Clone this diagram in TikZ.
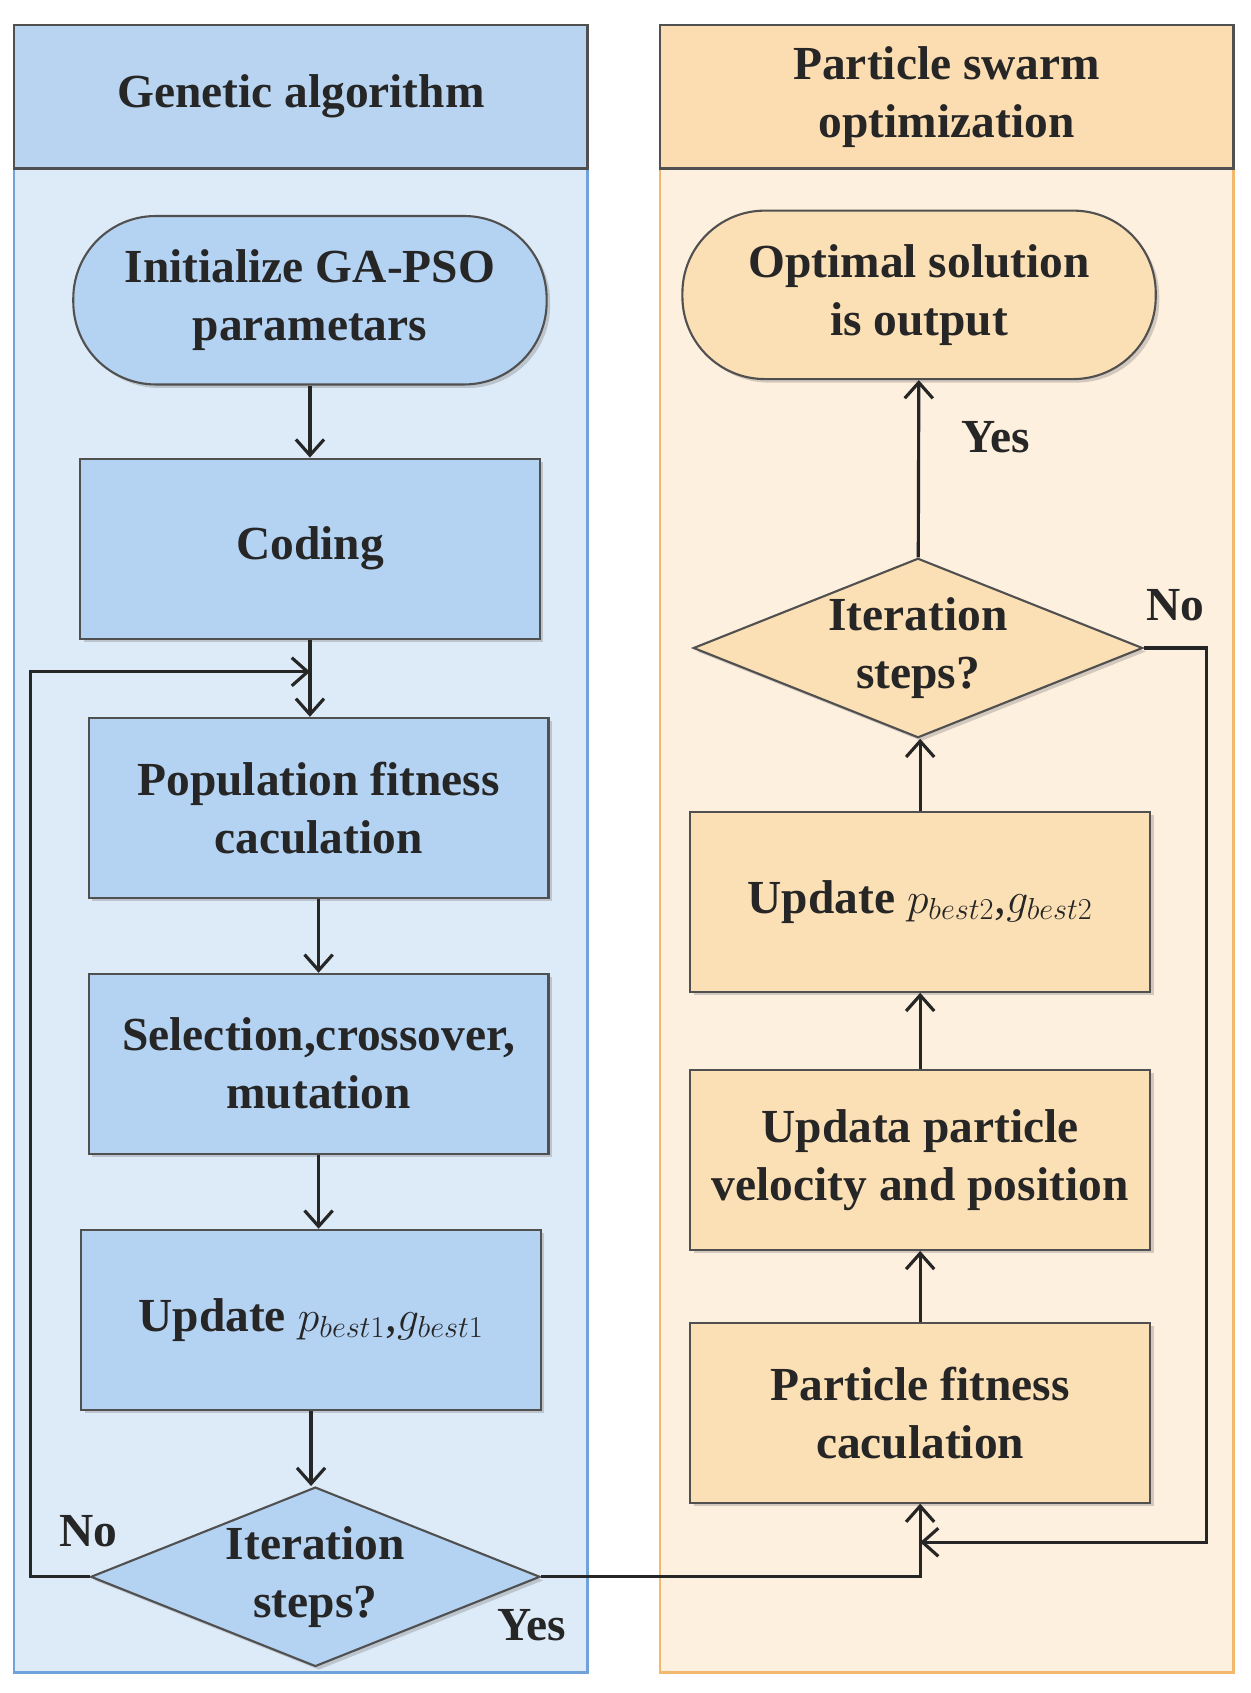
\documentclass[tikz,border=0pt]{standalone}
\usepackage{fontspec}
\setmainfont{Liberation Serif}
\usetikzlibrary{shapes.geometric,shadows,arrows.meta}
\definecolor{gablue}{HTML}{DDEBF8}
\definecolor{gahead}{HTML}{B8D4F0}
\definecolor{gabox}{HTML}{B4D2F2}
\definecolor{gaedge}{HTML}{6FA3DA}
\definecolor{psobg}{HTML}{FEF0DE}
\definecolor{psohead}{HTML}{FCDDB2}
\definecolor{psobox}{HTML}{FCE0B5}
\definecolor{psoedge}{HTML}{F2B86E}
\definecolor{boxedge}{HTML}{505050}
\begin{document}
\begin{tikzpicture}[x=0.0216cm, y=-0.0216cm,
  every node/.style={font=\fontsize{27}{33}\selectfont\bfseries, align=center, text=black!85},
  panel/.style={draw, line width=1.4pt, minimum width=11.47cm, minimum height=32.96cm, anchor=north west},
  head/.style={draw=boxedge, line width=1.4pt, minimum width=11.47cm, minimum height=2.87cm, anchor=north west},
  box/.style={draw=boxedge, line width=1.2pt, minimum width=9.2cm, minimum height=3.6cm,
    drop shadow={shadow xshift=2pt, shadow yshift=-2pt, opacity=0.35}},
  term/.style={box, rounded corners=1.65cm, minimum width=9.47cm, minimum height=3.37cm},
  decide/.style={box, diamond, minimum width=8.99cm, minimum height=3.59cm, inner sep=0pt},
  flow/.style={line width=1.8pt, draw=black!85, -{Straight Barb[length=9pt, width=16pt, line width=1.8pt]}}]
\useasboundingbox (0,0) rectangle (1158.3,1567.6);

% Panels
\node[panel, draw=gaedge, fill=gablue] (gapanel) at (12,22) {};
\node[panel, draw=psoedge, fill=psobg] (psopanel) at (610,22) {};
\node[head, fill=gahead] (gatitle) at (12,22) {Genetic algorithm};
\node[head, fill=psohead] (psotitle) at (610,22) {Particle swarm\\optimization};

% Genetic algorithm side
\node[term, fill=gabox] (init) at (287,278) {Initialize GA-PSO\\parametars};
\node[box, fill=gabox] (coding) at (287,508) {Coding};
\node[box, fill=gabox] (popfit) at (295,748) {Population fitness\\caculation};
\node[box, fill=gabox] (select) at (295,985) {Selection,crossover,\\mutation};
\node[box, fill=gabox] (update1) at (288,1222) {Update \normalfont$p_{best1}$,$g_{best1}$};
\node[decide, fill=gabox, label=center:{Iteration\\steps?}] (iter1) at (292,1460) {};

% Particle swarm side
\node[term, fill=psobox] (optimal) at (851,273) {Optimal solution\\is output};
\node[decide, fill=psobox, label=center:{Iteration\\steps?}] (iter2) at (850,600) {};
\node[box, fill=psobox] (update2) at (852,835) {Update \normalfont$p_{best2}$,$g_{best2}$};
\node[box, fill=psobox] (velocity) at (852,1074) {Updata particle\\velocity and position};
\node[box, fill=psobox] (pfit) at (852,1308) {Particle fitness\\caculation};

% Helper points
\coordinate (loopin) at (287,622);
\coordinate (merge) at (852,1428);

% Arrows
\draw[flow] (init) -- (init |- coding.north);
\draw[flow] (coding.south) -- (coding.south |- popfit.north);
\draw[flow] (popfit) -- (select);
\draw[flow] (select.south) -- (select.south |- update1.north);
\draw[flow] (update1.south) -- (update1.south |- iter1.north);
\draw[flow] (iter1.west) -- (28,1460) -- (28,622) -- (loopin);
\draw[flow] (iter1.east) -| (pfit.south);
\draw[flow] (pfit) -- (velocity);
\draw[flow] (velocity) -- (update2);
\draw[flow] (update2.north) -- (update2.north |- iter2.south);
\draw[flow] (iter2) -- (optimal);
\draw[flow] (iter2.east) -- (1117,600) -- (1117,1428) -- (merge);

% Labels
\node (no1) at (82,1418) {No};
\node (yes1) at (492,1505) {Yes};
\node (yes2) at (922,405) {Yes};
\node (no2) at (1088,560) {No};
\end{tikzpicture}
\end{document}
